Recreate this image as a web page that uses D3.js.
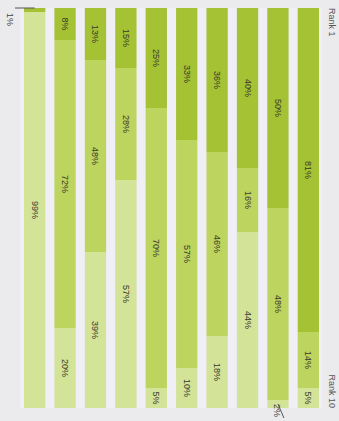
<!DOCTYPE html>
<html>
<head>
<script src="https://d3js.org/d3.v7.min.js"></script>
<style>
  body { margin: 0; background: #ebebed; }
  text { font-family: "Liberation Sans", Arial, sans-serif; }
</style>
</head>
<body>
<div id="chart"></div>
<script>
// column order, left to right (rank 1 side is at the top)
var columns = ["A", "B", "C", "D", "E", "F", "G", "H", "I", "J"];
var topShare = [1, 8, 13, 15, 25, 33, 36, 40, 50, 81];
var midShare = [0, 72, 48, 28, 70, 57, 46, 16, 48, 14];
var lowShare = [99, 20, 39, 57, 5, 10, 18, 44, 2, 5];
var endLabels = ["Rank 1", "Rank 10"];

var W = 339, H = 421;
var colors = {top: "#a4c233", mid: "#bdd45e", low: "#d3e398"};

var svg = d3.select("#chart").append("svg")
    .attr("width", W).attr("height", H);

svg.append("rect").attr("width", W).attr("height", H).attr("fill", "#ebebed");

var rows = columns.map(function(c, i) {
  return {col: c, top: topShare[i], mid: midShare[i], low: lowShare[i]};
});

var keys = ["top", "mid", "low"];
var stack = d3.stack().keys(keys)(rows);

var x = d3.scaleBand().domain(columns).range([24, 319]).paddingInner(0.3).paddingOuter(0);
var y = d3.scaleLinear().domain([0, 100]).range([8, 408]);

// light gaps between bars
svg.append("rect").attr("x", 20).attr("y", 8).attr("width", 302).attr("height", 400)
    .attr("fill", "#efeff5");

var layer = svg.selectAll(".layer")
  .data(stack)
  .enter().append("g")
    .attr("class", "layer")
    .attr("fill", function(d) { return colors[d.key]; });

layer.selectAll("rect")
  .data(function(d) { return d; })
  .enter().append("rect")
    .attr("x", function(d) { return x(d.data.col); })
    .attr("y", function(d) { return y(d[0]); })
    .attr("width", x.bandwidth())
    .attr("height", function(d) { return y(d[1]) - y(d[0]); });

// labels inside segments
stack.forEach(function(s) {
  s.forEach(function(d) {
    var v = d[1] - d[0];
    if (v < 5) return;
    var cx = x(d.data.col) + x.bandwidth() / 2;
    var cy = (y(d[0]) + y(d[1])) / 2;
    svg.append("text")
      .attr("transform", "translate(" + (cx - 3) + "," + cy + ") rotate(90)")
      .attr("text-anchor", "middle")
      .attr("font-size", "9px")
      .attr("fill", "#3a3a2a")
      .text(v + "%");
  });
});

// small segments labelled outside
var c1 = x(columns[0]) + x.bandwidth() / 2;
svg.append("line")
  .attr("x1", 15).attr("y1", y(0)).attr("x2", c1).attr("y2", y(0))
  .attr("stroke", "#555").attr("stroke-width", 1);
svg.append("text")
  .attr("transform", "translate(7," + (y(0) + 5) + ") rotate(90)")
  .attr("font-size", "9px").attr("fill", "#444")
  .text(topShare[0] + "%");

var c9 = x(columns[8]) + x.bandwidth() / 2;
svg.append("line")
  .attr("x1", c9).attr("y1", y(99)).attr("x2", c9 + 6).attr("y2", y(100) + 10)
  .attr("stroke", "#555").attr("stroke-width", 1);
svg.append("text")
  .attr("transform", "translate(" + (c9 - 4) + "," + (y(100) - 4) + ") rotate(90)")
  .attr("font-size", "9px").attr("fill", "#444")
  .text(lowShare[8] + "%");

// end labels on the right
svg.append("text")
  .attr("transform", "translate(329," + y(0) + ") rotate(90)")
  .attr("font-size", "9px").attr("fill", "#555")
  .text(endLabels[0]);
svg.append("text")
  .attr("transform", "translate(329," + y(100) + ") rotate(90)")
  .attr("text-anchor", "end")
  .attr("font-size", "9px").attr("fill", "#555")
  .text(endLabels[1]);
</script>
</body>
</html>
